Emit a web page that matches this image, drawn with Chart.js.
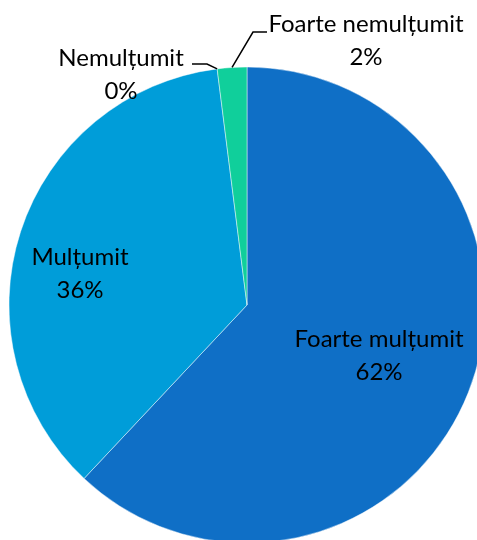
<!DOCTYPE html>
<html><head><meta charset="utf-8">
<script src="https://cdn.jsdelivr.net/npm/chart.js@4"></script>
<style>
html,body{margin:0;padding:0;background:#fff;overflow:hidden;width:477px;height:540px;}
#wrap{position:absolute;left:0;top:0;width:494px;height:610px;}
</style></head><body>
<div id="wrap"><canvas id="c" width="494" height="610"></canvas></div>
<script>
const categories = ['Foarte mulțumit', 'Mulțumit', 'Nemulțumit', 'Foarte nemulțumit'];
const values = [62, 36, 0, 2];
const colors = ['#0F6FC6', '#009DD9', '#0BD0D9', '#10CF9B'];

const FONT = '24px Lato';
const LINE_GAP = 33;
// label layout: center x, first-line baseline y (pixels), optional leader
const labelLayout = [
  { x: 379, y: 347 },
  { x: 80, y: 265 },
  { x: 121, y: 66, leader: [[192, 64], [207, 64]] },
  { x: 366, y: 32, leader: [[267, 32], [253, 32]] }
];

const labelPlugin = {
  id: 'pieLabels',
  afterDatasetsDraw(chart) {
    const ctx = chart.ctx;
    const meta = chart.getDatasetMeta(0);
    const data = chart.data.datasets[0].data;
    const total = data.reduce((a, b) => a + b, 0);
    ctx.save();
    ctx.font = FONT;
    ctx.fillStyle = '#000';
    ctx.textAlign = 'center';
    ctx.textBaseline = 'alphabetic';
    meta.data.forEach((arc, i) => {
      const L = labelLayout[i];
      const pct = Math.round(data[i] / total * 100) + '%';
      ctx.fillText(chart.data.labels[i], L.x, L.y);
      ctx.fillText(pct, L.x, L.y + LINE_GAP);
      if (L.leader) {
        const p = arc.getProps(['x', 'y', 'startAngle', 'endAngle', 'outerRadius'], true);
        const mid = (p.startAngle + p.endAngle) / 2;
        const ex = p.x + Math.cos(mid) * p.outerRadius;
        const ey = p.y + Math.sin(mid) * p.outerRadius;
        ctx.beginPath();
        ctx.strokeStyle = '#000';
        ctx.lineWidth = 1.5;
        ctx.moveTo(L.leader[0][0], L.leader[0][1]);
        for (let k = 1; k < L.leader.length; k++) ctx.lineTo(L.leader[k][0], L.leader[k][1]);
        ctx.lineTo(ex, ey);
        ctx.stroke();
      }
    });
    ctx.restore();
  }
};

new Chart(document.getElementById('c'), {
  type: 'pie',
  data: {
    labels: categories,
    datasets: [{
      data: values,
      backgroundColor: colors,
      borderColor: 'rgba(255,255,255,0.6)',
      borderWidth: 0.75,
      hoverOffset: 0,
      offset: 0
    }]
  },
  options: {
    responsive: false,
    devicePixelRatio: 1,
    animation: false,
    radius: 238,
    layout: { padding: 0 },
    plugins: { legend: { display: false }, tooltip: { enabled: false } },
    events: []
  },
  plugins: [labelPlugin]
});
</script>
</body></html>
